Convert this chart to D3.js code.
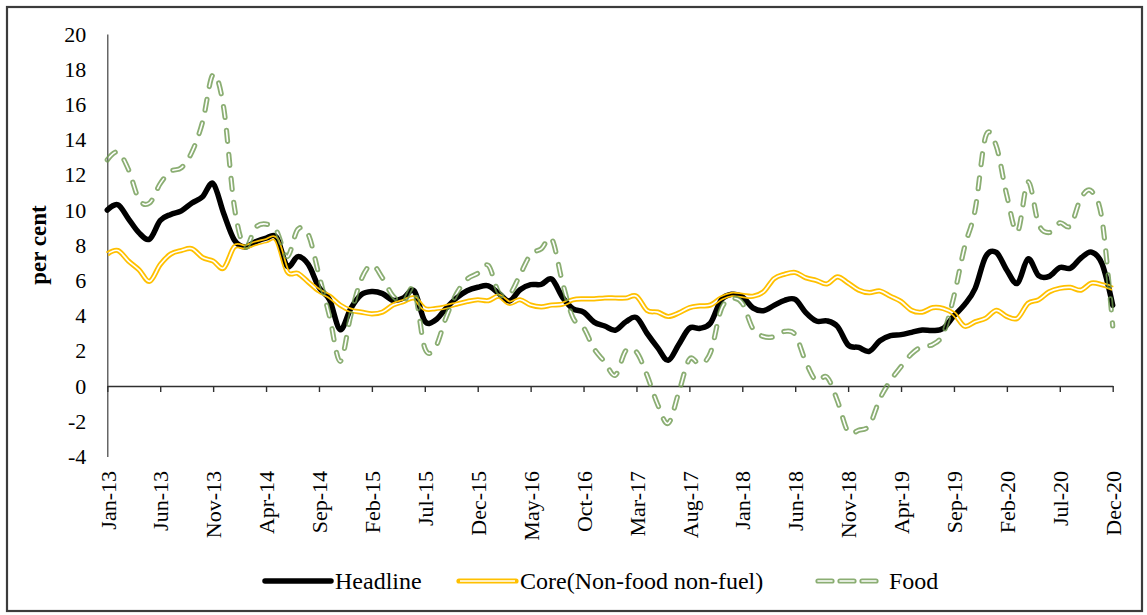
<!DOCTYPE html>
<html>
<head>
<meta charset="utf-8">
<script src="https://cdn.jsdelivr.net/npm/d3@7"></script>
<style>
  html, body { margin: 0; padding: 0; background: #fff; }
  svg { display: block; }
  text { font-family: "Times New Roman", "Liberation Serif", serif; fill: #000; }
</style>
</head>
<body>
<svg id="chart" width="1147" height="615"></svg>
<script>
// ---------------- DATA ----------------
const monthNames = ["Jan","Feb","Mar","Apr","May","Jun","Jul","Aug","Sep","Oct","Nov","Dec"];
const years = ["13","14","15","16","17","18","19","20"];
const months = [];
years.forEach(y => monthNames.forEach(m => months.push(m + "-" + y)));

const tickLabels = ["Jan-13","Jun-13","Nov-13","Apr-14","Sep-14","Feb-15","Jul-15","Dec-15",
  "May-16","Oct-16","Mar-17","Aug-17","Jan-18","Jun-18","Nov-18","Apr-19","Sep-19",
  "Feb-20","Jul-20","Dec-20"];
const yTicks = [-4,-2,0,2,4,6,8,10,12,14,16,18,20];

const headline = [
  10.0, 10.3, 9.5, 8.7, 8.35, 9.4, 9.75, 9.95, 10.4, 10.75, 11.5, 9.8,
  8.3, 7.9, 8.2, 8.4, 8.45, 6.8, 7.35, 6.9, 5.6, 4.9, 3.2, 4.4,
  5.19, 5.37, 5.25, 4.87, 5.01, 5.4, 3.69, 3.74, 4.41, 5.0, 5.41, 5.61,
  5.69, 5.26, 4.83, 5.47, 5.76, 5.77, 6.07, 5.05, 4.39, 4.2, 3.63, 3.41,
  3.17, 3.65, 3.89, 2.99, 2.18, 1.46, 2.36, 3.28, 3.28, 3.58, 4.88, 5.21,
  5.07, 4.44, 4.28, 4.58, 4.87, 4.92, 4.17, 3.69, 3.70, 3.38, 2.33, 2.19,
  1.97, 2.57, 2.86, 2.92, 3.05, 3.18, 3.15, 3.28, 3.99, 4.62, 5.54, 7.35,
  7.59, 6.58, 5.84, 7.22, 6.27, 6.23, 6.73, 6.69, 7.27, 7.61, 6.93, 4.59
];
const core = [
  7.5, 7.7, 7.1, 6.6, 5.95, 6.9, 7.5, 7.7, 7.8, 7.3, 7.1, 6.7,
  7.9, 7.9, 8.1, 8.25, 8.3, 6.5, 6.4, 5.9, 5.4, 5.1, 4.6, 4.3,
  4.2, 4.1, 4.2, 4.6, 4.8, 5.0, 4.4, 4.4, 4.5, 4.65, 4.8, 4.9,
  4.85, 5.1, 4.7, 4.9, 4.6, 4.5, 4.6, 4.65, 4.9, 4.95, 4.95, 5.0,
  5.0, 5.0, 5.1, 4.3, 4.2, 3.95, 4.15, 4.45, 4.55, 4.6, 5.0, 5.2,
  5.15, 5.1, 5.35, 6.1, 6.35, 6.45, 6.15, 6.0, 5.8, 6.2, 5.85, 5.45,
  5.3, 5.4, 5.1, 4.8, 4.3, 4.2, 4.45, 4.4, 4.1, 3.4, 3.65, 3.85,
  4.3, 3.95, 3.85, 4.7, 4.9, 5.35, 5.55, 5.6, 5.45, 5.85, 5.75, 5.55
];
const food = [
  12.85, 13.3, 12.3, 10.6, 10.4, 11.5, 12.2, 12.4, 13.3, 15.0, 17.7, 15.8,
  10.2, 7.9, 9.0, 9.2, 8.8, 7.35, 8.9, 8.6, 6.3, 3.95, 1.4, 4.0,
  6.06, 6.88, 6.14, 5.11, 4.8, 5.48, 2.15, 2.2, 3.88, 5.25, 6.07, 6.40,
  6.85, 5.30, 5.21, 6.32, 7.47, 7.79, 8.35, 5.91, 3.88, 3.32, 2.11, 1.37,
  0.61, 2.01, 1.93, 0.61, -1.05, -2.12, -0.36, 1.52, 1.25, 1.90, 4.35, 4.96,
  4.70, 3.26, 2.81, 2.80, 3.10, 2.91, 1.37, 0.29, 0.51, -0.86, -2.61, -2.51,
  -2.24, -0.73, 0.30, 1.10, 1.83, 2.25, 2.36, 2.99, 5.11, 7.89, 10.01, 14.19,
  13.63, 10.81, 8.76, 11.6, 9.2, 8.72, 9.27, 9.1, 10.68, 11.07, 9.43, 3.41
];
const seriesNames = ["Headline", "Core(Non-food non-fuel)", "Food"];

// ---------------- CHART ----------------
const svg = d3.select("#chart");
const W = 1147, H = 615;

// outer frame
svg.append("rect").attr("x", 7).attr("y", 7).attr("width", 1135).attr("height", 604)
  .attr("fill", "#fff").attr("stroke", "#3c3c3c").attr("stroke-width", 2.2);

const x = d3.scalePoint().domain(months).range([107.3, 1112.7]);
const y = d3.scaleLinear().domain([-4, 20]).range([456.4, 34]);

const TICKFONT = 22;
const LEGFONT = 24;

// y axis
const yAxis = d3.axisLeft(y).tickValues(yTicks).tickSize(0).tickSizeOuter(0).tickPadding(21)
  .tickFormat(d => d < 0 ? "-" + Math.abs(d) : d);
const gy = svg.append("g").attr("transform", "translate(107.3,0)").call(yAxis);
gy.select(".domain").attr("stroke", "#404040").attr("stroke-width", 1.2);
gy.selectAll("text").style("font-family", '"Times New Roman","Liberation Serif",serif')
  .style("font-size", TICKFONT + "px").attr("fill", "#000");

// x axis at zero
const xAxis = d3.axisBottom(x).tickValues(tickLabels).tickSize(6).tickSizeOuter(0).tickFormat(d => d);
const gx = svg.append("g").attr("transform", `translate(0,${y(0)})`).call(xAxis);
gx.select(".domain").attr("stroke", "#303030").attr("stroke-width", 1.4);
gx.selectAll(".tick line").attr("stroke", "#303030").attr("stroke-width", 1.4);
gx.selectAll("text")
  .style("font-family", '"Times New Roman","Liberation Serif",serif')
  .style("font-size", TICKFONT + "px").attr("fill", "#000")
  .attr("text-anchor", "end")
  .attr("transform", `translate(0,${471 - y(0)}) rotate(-90)`)
  .attr("x", 0).attr("y", 0).attr("dy", "0.35em");

// y title
svg.append("text").attr("transform", "translate(38,245) rotate(-90)")
  .attr("text-anchor", "middle").attr("dy", "0.35em")
  .style("font-size", "23px").style("font-weight", "bold").text("per cent");

// lines
const line = d3.line().x((d, i) => x(months[i])).y(d => y(d)).curve(d3.curveCatmullRom.alpha(0));
const defs = svg.append("defs");

const GREEN = "#6e9a50";
const YELLOW = "#ffc000";
const dash = "11 13";

// masks for double (compound) lines: transparent inner gap
function makeMask(id, data, width, dasharray) {
  const m = defs.append("mask").attr("id", id).attr("maskUnits", "userSpaceOnUse")
    .attr("x", 0).attr("y", 0).attr("width", W).attr("height", H);
  m.append("rect").attr("x", 0).attr("y", 0).attr("width", W).attr("height", H).attr("fill", "#fff");
  const p = m.append("path").attr("d", line(data)).attr("fill", "none").attr("stroke", "#000")
    .attr("stroke-width", width).attr("stroke-linecap", "round").attr("stroke-linejoin", "round");
  if (dasharray) p.attr("stroke-dasharray", dasharray);
}
makeMask("coreMask", core, 1.7, null);
makeMask("foodMask", food, 1.6, dash);

svg.append("path").attr("d", line(headline)).attr("fill", "none").attr("stroke", "#000")
  .attr("stroke-width", 5.5).attr("stroke-linejoin", "round").attr("stroke-linecap", "round");

svg.append("path").attr("d", line(core)).attr("fill", "none").attr("stroke", YELLOW)
  .attr("stroke-width", 5.2).attr("stroke-linejoin", "round").attr("mask", "url(#coreMask)");

svg.append("path").attr("d", line(food)).attr("fill", "none").attr("stroke", GREEN)
  .attr("stroke-opacity", 0.8)
  .attr("stroke-width", 5.2).attr("stroke-linejoin", "round").attr("stroke-linecap", "round")
  .attr("stroke-dasharray", dash).attr("mask", "url(#foodMask)");

// legend
const LY = 581;
const legend = [
  { name: seriesNames[0], x1: 265, x2: 331, tx: 335 },
  { name: seriesNames[1], x1: 459, x2: 516, tx: 520 },
  { name: seriesNames[2], x1: 818, x2: 876, tx: 889 }
];
const lg = svg.append("g");
// headline sample
lg.append("line").attr("x1", legend[0].x1).attr("x2", legend[0].x2).attr("y1", LY).attr("y2", LY)
  .attr("stroke", "#000").attr("stroke-width", 5.5).attr("stroke-linecap", "round");
// core sample
lg.append("line").attr("x1", legend[1].x1).attr("x2", legend[1].x2).attr("y1", LY).attr("y2", LY)
  .attr("stroke", YELLOW).attr("stroke-width", 5.2).attr("stroke-linecap", "round");
lg.append("line").attr("x1", legend[1].x1 + 1).attr("x2", legend[1].x2 - 1).attr("y1", LY).attr("y2", LY)
  .attr("stroke", "#fff").attr("stroke-width", 1.7);
// food sample
const fd = "14 8";
lg.append("line").attr("x1", legend[2].x1).attr("x2", legend[2].x2).attr("y1", LY).attr("y2", LY)
  .attr("stroke", GREEN).attr("stroke-opacity", 0.8).attr("stroke-width", 5.2)
  .attr("stroke-linecap", "round").attr("stroke-dasharray", fd);
lg.append("line").attr("x1", legend[2].x1).attr("x2", legend[2].x2).attr("y1", LY).attr("y2", LY)
  .attr("stroke", "#fff").attr("stroke-width", 1.6)
  .attr("stroke-linecap", "round").attr("stroke-dasharray", fd);

legend.forEach(l => {
  lg.append("text").attr("x", l.tx).attr("y", LY).attr("dy", "0.35em")
    .style("font-size", LEGFONT + "px").text(l.name);
});
</script>
</body>
</html>
